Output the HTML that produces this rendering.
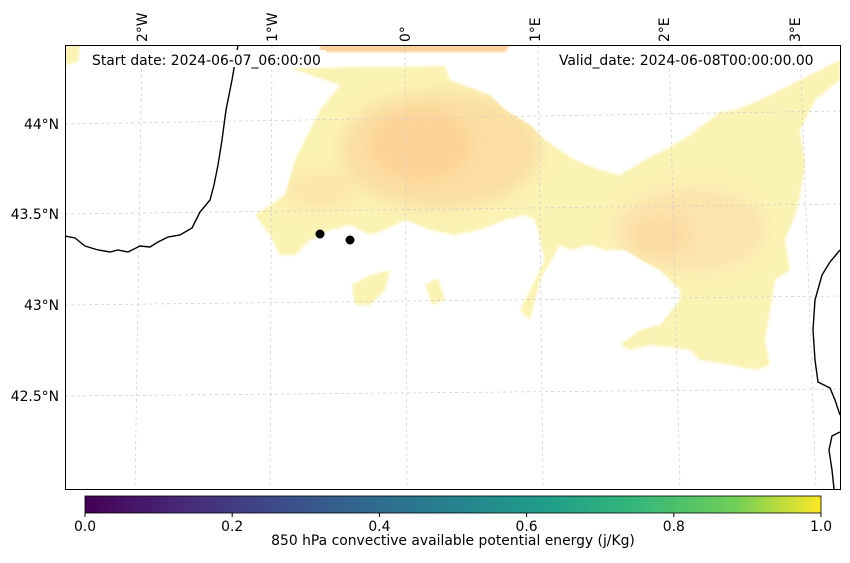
<!DOCTYPE html>
<html><head><meta charset="utf-8"><style>
body{margin:0;background:#fff;width:850px;height:558px;overflow:hidden;font-family:"Liberation Sans","DejaVu Sans",sans-serif}
svg text{font-family:"DejaVu Sans","Liberation Sans",sans-serif;font-size:13.9px;fill:#000}
</style></head><body>
<svg id="chart" width="850" height="558">
<defs>
<filter id="blur" filterUnits="userSpaceOnUse" x="0" y="0" width="850" height="558"><feGaussianBlur stdDeviation="8"/></filter>
<filter id="blur2" filterUnits="userSpaceOnUse" x="0" y="0" width="850" height="558"><feGaussianBlur stdDeviation="1.2"/></filter>
<linearGradient id="viridis" x1="0" x2="1" y1="0" y2="0">
<stop offset="0" stop-color="#440154"/><stop offset="0.13" stop-color="#482878"/><stop offset="0.25" stop-color="#3e4989"/><stop offset="0.38" stop-color="#31688e"/><stop offset="0.5" stop-color="#26828e"/><stop offset="0.63" stop-color="#1f9e89"/><stop offset="0.75" stop-color="#35b779"/><stop offset="0.88" stop-color="#6ece58"/><stop offset="1" stop-color="#fde725"/>
</linearGradient>
<clipPath id="mapclip"><rect x="65" y="45" width="775" height="444"/></clipPath>
<clipPath id="fieldclip"><path d="M290,68 L445,66 L450,80 L490,95 L505,110 L530,125 L545,140 L575,160 L600,170 L620,175 L645,160 L665,150 L690,135 L720,112 L735,110 L760,100 L780,90 L800,80 L830,65 L840,60 L840,80 L815,100 L800,130 L805,165 L800,195 L795,215 L785,240 L790,270 L775,280 L770,310 L765,340 L770,365 L755,370 L730,365 L700,360 L690,350 L650,345 L630,350 L620,345 L640,330 L660,325 L680,300 L680,290 L660,270 L650,265 L625,250 L605,250 L590,245 L570,250 L560,245 L540,280 L530,320 L520,310 L545,260 L535,220 L525,215 L505,220 L480,230 L455,235 L430,230 L405,220 L385,230 L370,235 L350,225 L330,230 L310,240 L295,255 L280,255 L270,235 L255,215 L270,205 L285,195 L295,160 L305,140 L320,110 L340,85 Z"/></clipPath>
</defs>
<g clip-path="url(#mapclip)">
<g filter="url(#blur2)">
<path fill="#fbf3b4" d="M290,68 L445,66 L450,80 L490,95 L505,110 L530,125 L545,140 L575,160 L600,170 L620,175 L645,160 L665,150 L690,135 L720,112 L735,110 L760,100 L780,90 L800,80 L830,65 L840,60 L840,80 L815,100 L800,130 L805,165 L800,195 L795,215 L785,240 L790,270 L775,280 L770,310 L765,340 L770,365 L755,370 L730,365 L700,360 L690,350 L650,345 L630,350 L620,345 L640,330 L660,325 L680,300 L680,290 L660,270 L650,265 L625,250 L605,250 L590,245 L570,250 L560,245 L540,280 L530,320 L520,310 L545,260 L535,220 L525,215 L505,220 L480,230 L455,235 L430,230 L405,220 L385,230 L370,235 L350,225 L330,230 L310,240 L295,255 L280,255 L270,235 L255,215 L270,205 L285,195 L295,160 L305,140 L320,110 L340,85 Z"/>
<path fill="#fbf3b4" d="M352,285 L370,275 L390,270 L385,290 L370,305 L355,305 Z"/>
<path fill="#fbf3b4" d="M425,285 L438,278 L445,300 L432,305 Z"/>
<path fill="#fbf3b4" d="M65,45 L80,45 L78,62 L65,65 Z"/>
<path fill="#fbcf98" d="M320,45 L510,45 L505,52 L320,52 Z"/>
</g>
<g clip-path="url(#fieldclip)">
<g filter="url(#blur)">
<ellipse cx="440" cy="150" rx="100" ry="58" fill="#fcd99f" opacity="0.85"/>
<ellipse cx="420" cy="145" rx="50" ry="35" fill="#fcca90" opacity="0.6"/>
<ellipse cx="320" cy="190" rx="35" ry="20" fill="#fde0a8" opacity="0.7"/>
<ellipse cx="690" cy="230" rx="75" ry="42" fill="#fde1aa" opacity="0.85"/>
<ellipse cx="660" cy="235" rx="30" ry="20" fill="#fcd39a" opacity="0.6"/>
</g>
</g>
<g stroke="#ccc" stroke-width="0.7" stroke-dasharray="3,3" fill="none">
<line x1="142" y1="45" x2="135" y2="489"/><line x1="272" y1="45" x2="270" y2="489"/><line x1="405" y1="45" x2="407" y2="489"/><line x1="538" y1="45" x2="543" y2="489"/><line x1="669" y1="45" x2="680" y2="489"/><line x1="800" y1="45" x2="816" y2="489"/>
<line x1="65" y1="124" x2="840" y2="111"/><line x1="65" y1="214" x2="840" y2="204"/><line x1="65" y1="305" x2="840" y2="296"/><line x1="65" y1="396" x2="840" y2="389"/>
</g>
<path fill="none" stroke="#000" stroke-width="1.4" d="M238,45 L232,80 L226,110 L222,140 L218,165 L214,185 L210,200 L200,212 L192,228 L180,235 L168,237 L158,242 L150,247 L140,246 L128,252 L118,250 L110,252 L98,250 L85,246 L75,238 L65,236"/>
<path fill="none" stroke="#000" stroke-width="1.4" d="M840,250 L830,262 L822,275 L815,300 L813,330 L815,360 L818,382 L830,388 L835,400 L840,415 M840,432 L832,436 L829,450 L832,470 L834,489"/>
<g id="points"></g>
<rect x="88" y="50" width="238" height="17" fill="#fff"/>
<rect x="555" y="50" width="264" height="17" fill="#fff"/>
<text x="92" y="65">Start date: 2024-06-07_06:00:00</text>
<text x="559" y="65">Valid_date: 2024-06-08T00:00:00.00</text>
</g>
<rect x="65.5" y="45.5" width="775" height="444" fill="none" stroke="#000" stroke-width="1"/>
<g>
<text transform="translate(147,42) rotate(-90)">2°W</text>
<text transform="translate(277,42) rotate(-90)">1°W</text>
<text transform="translate(410,42) rotate(-90)">0°</text>
<text transform="translate(540,42) rotate(-90)">1°E</text>
<text transform="translate(669,42) rotate(-90)">2°E</text>
<text transform="translate(800,42) rotate(-90)">3°E</text>
</g>
<g text-anchor="end">
<text x="59" y="129">44°N</text><text x="59" y="219">43.5°N</text><text x="59" y="310">43°N</text><text x="59" y="401">42.5°N</text>
</g>
<rect x="85" y="496" width="736" height="17" fill="url(#viridis)" stroke="#000" stroke-width="0.8"/>
<g id="cbticks"></g>
<text x="453" y="545" text-anchor="middle">850 hPa convective available potential energy (j/Kg)</text>
</svg>
<script>
const pointX = [320, 350];
const pointY = [234, 240];
const cbTicks = [0.0, 0.2, 0.4, 0.6, 0.8, 1.0];
const ns = "http://www.w3.org/2000/svg";
const pts = document.getElementById('points');
for (let i = 0; i < pointX.length; i++) {
  const c = document.createElementNS(ns, 'circle');
  c.setAttribute('cx', pointX[i]); c.setAttribute('cy', pointY[i]); c.setAttribute('r', 4.5);
  c.setAttribute('fill', '#000');
  
  
  pts.appendChild(c);
}
const cbx = v => 85 + v * 736;
const g = document.getElementById('cbticks');
cbTicks.forEach(v => {
  const l = document.createElementNS(ns, 'line');
  l.setAttribute('x1', cbx(v)); l.setAttribute('x2', cbx(v)); l.setAttribute('y1', 513); l.setAttribute('y2', 517);
  l.setAttribute('stroke', '#000');
  
  
  g.appendChild(l);
  const t = document.createElementNS(ns, 'text');
  t.setAttribute('x', cbx(v)); t.setAttribute('y', 531); t.setAttribute('text-anchor', 'middle');
  t.textContent = v.toFixed(1);
  
  
  g.appendChild(t);
});
</script>
</body></html>
